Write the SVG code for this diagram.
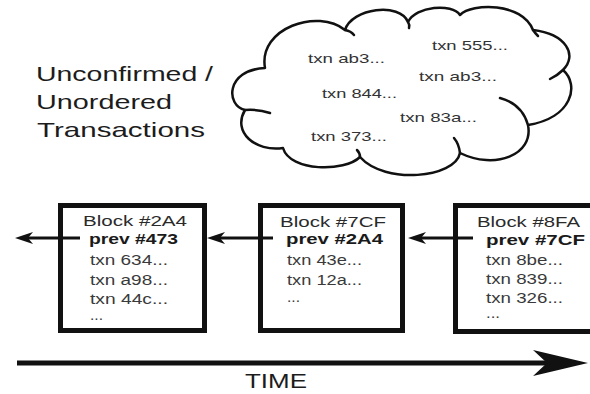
<svg xmlns="http://www.w3.org/2000/svg" width="590" height="394" viewBox="0 0 590 394">
  <style>
    text { font-family: "Liberation Sans", Arial, sans-serif; }
    .title { font-size: 21px; fill: #1c1c1c; }
    .txn { font-size: 14px; fill: #3a3a3a; }
    .head { font-size: 14px; fill: #2a2a2a; }
    .prev { font-size: 14px; font-weight: bold; fill: #1a1a1a; }
    .cloudtxn { font-size: 13.5px; fill: #333; }
    .block { fill: #fff; stroke: #111; stroke-width: 5; }
    .link { stroke: #111; stroke-width: 3; fill: none; }
    .cloud { fill: #fff; stroke: #111; stroke-width: 2.5; stroke-linejoin: round; }
    .hook { fill: none; stroke: #111; stroke-width: 2.5; stroke-linecap: round; }
  </style>
  <defs>
    <marker id="arrow" markerUnits="userSpaceOnUse" markerWidth="20" markerHeight="14" viewBox="0 -7 20 14" refX="5" refY="0" orient="auto">
      <path d="M0,-6 L18,0 L0,6 L5,0 Z" fill="#111"/>
    </marker>
    <marker id="bigarrow" markerUnits="userSpaceOnUse" markerWidth="58" markerHeight="28" viewBox="0 -14 58 28" refX="14" refY="0" orient="auto">
      <path d="M0,-13 L55,0 L0,13 L14,0 Z" fill="#111"/>
    </marker>
  </defs>

  <rect width="590" height="394" fill="#fff"/>

  <!-- pool of pending transactions -->
  <g id="pool-label">
    <text class="title" x="36" y="81" textLength="177" lengthAdjust="spacingAndGlyphs">Unconfirmed /</text>
    <text class="title" x="36" y="109" textLength="136" lengthAdjust="spacingAndGlyphs">Unordered</text>
    <text class="title" x="37" y="137" textLength="168" lengthAdjust="spacingAndGlyphs">Transactions</text>
  </g>

  <g id="cloud">
    <path class="cloud" d="M245,110
      C226,106 225,70 265,68
      C258,28 318,8 345,30
      C352,8 400,2 408,22
      C416,6 452,3 460,15
      C472,3 522,2 533,30
      C566,34 578,55 563,70
      C580,85 572,118 528,125
      C534,155 495,170 460,153
      C455,178 385,185 360,157
      C345,172 290,172 283,148
      C255,152 232,132 245,110 Z"/>
    <path class="hook" d="M345,30 Q351,31 354,35"/>
    <path class="hook" d="M408,22 Q410,25 409,28"/>
    <path class="hook" d="M533,30 Q535,33 538,36"/>
    <path class="hook" d="M563,70 Q558,75 550,79"/>
    <path class="hook" d="M528,125 Q522,104 500,98"/>
    <path class="hook" d="M460,153 Q459,144 454,138"/>
    <path class="hook" d="M360,157 Q360,153 357,150"/>
    <path class="hook" d="M245,110 Q258,109 270,113"/>
    <text class="cloudtxn" x="308" y="63" textLength="77" lengthAdjust="spacingAndGlyphs">txn ab3...</text>
    <text class="cloudtxn" x="432" y="50" textLength="76" lengthAdjust="spacingAndGlyphs">txn 555...</text>
    <text class="cloudtxn" x="419" y="81" textLength="78" lengthAdjust="spacingAndGlyphs">txn ab3...</text>
    <text class="cloudtxn" x="322" y="98" textLength="75" lengthAdjust="spacingAndGlyphs">txn 844...</text>
    <text class="cloudtxn" x="400" y="122" textLength="77" lengthAdjust="spacingAndGlyphs">txn 83a...</text>
    <text class="cloudtxn" x="311" y="141" textLength="76" lengthAdjust="spacingAndGlyphs">txn 373...</text>
  </g>

  <!-- chain of blocks -->
  <g id="block-2a4">
    <rect class="block" x="60.5" y="205.5" width="144" height="125"/>
    <text class="head" x="83" y="226" textLength="104" lengthAdjust="spacingAndGlyphs">Block #2A4</text>
    <text class="prev" x="89" y="244" textLength="89" lengthAdjust="spacingAndGlyphs">prev #473</text>
    <text class="txn" x="90" y="265" textLength="78" lengthAdjust="spacingAndGlyphs">txn 634...</text>
    <text class="txn" x="90" y="285" textLength="78" lengthAdjust="spacingAndGlyphs">txn a98...</text>
    <text class="txn" x="90" y="304" textLength="78" lengthAdjust="spacingAndGlyphs">txn 44c...</text>
    <text class="txn" x="90" y="320" textLength="13" lengthAdjust="spacingAndGlyphs">...</text>
  </g>

  <g id="block-7cf">
    <rect class="block" x="260.5" y="205.5" width="142" height="125"/>
    <text class="head" x="280" y="227" textLength="106" lengthAdjust="spacingAndGlyphs">Block #7CF</text>
    <text class="prev" x="286" y="244" textLength="97" lengthAdjust="spacingAndGlyphs">prev #2A4</text>
    <text class="txn" x="287" y="265" textLength="75" lengthAdjust="spacingAndGlyphs">txn 43e...</text>
    <text class="txn" x="287" y="285" textLength="75" lengthAdjust="spacingAndGlyphs">txn 12a...</text>
    <text class="txn" x="287" y="302" textLength="13" lengthAdjust="spacingAndGlyphs">...</text>
  </g>

  <g id="block-8fa">
    <rect class="block" x="455.5" y="205.5" width="150" height="126"/>
    <text class="head" x="477" y="227" textLength="103" lengthAdjust="spacingAndGlyphs">Block #8FA</text>
    <text class="prev" x="486" y="245" textLength="99" lengthAdjust="spacingAndGlyphs">prev #7CF</text>
    <text class="txn" x="486" y="265" textLength="77" lengthAdjust="spacingAndGlyphs">txn 8be...</text>
    <text class="txn" x="486" y="284" textLength="77" lengthAdjust="spacingAndGlyphs">txn 839...</text>
    <text class="txn" x="486" y="303" textLength="77" lengthAdjust="spacingAndGlyphs">txn 326...</text>
    <text class="txn" x="486" y="318" textLength="14" lengthAdjust="spacingAndGlyphs">...</text>
  </g>

  <!-- back-links: each block points at its predecessor -->
  <g id="links">
    <line class="link" x1="80" y1="238" x2="28" y2="238" marker-end="url(#arrow)"/>
    <line class="link" x1="273" y1="238" x2="220" y2="238" marker-end="url(#arrow)"/>
    <line class="link" x1="473" y1="238" x2="421" y2="238" marker-end="url(#arrow)"/>
  </g>

  <!-- time axis -->
  <g id="time-axis">
    <line x1="17" y1="363" x2="547" y2="363" stroke="#111" stroke-width="5" marker-end="url(#bigarrow)"/>
    <text class="title" x="245" y="388" textLength="62" lengthAdjust="spacingAndGlyphs">TIME</text>
  </g>
</svg>
